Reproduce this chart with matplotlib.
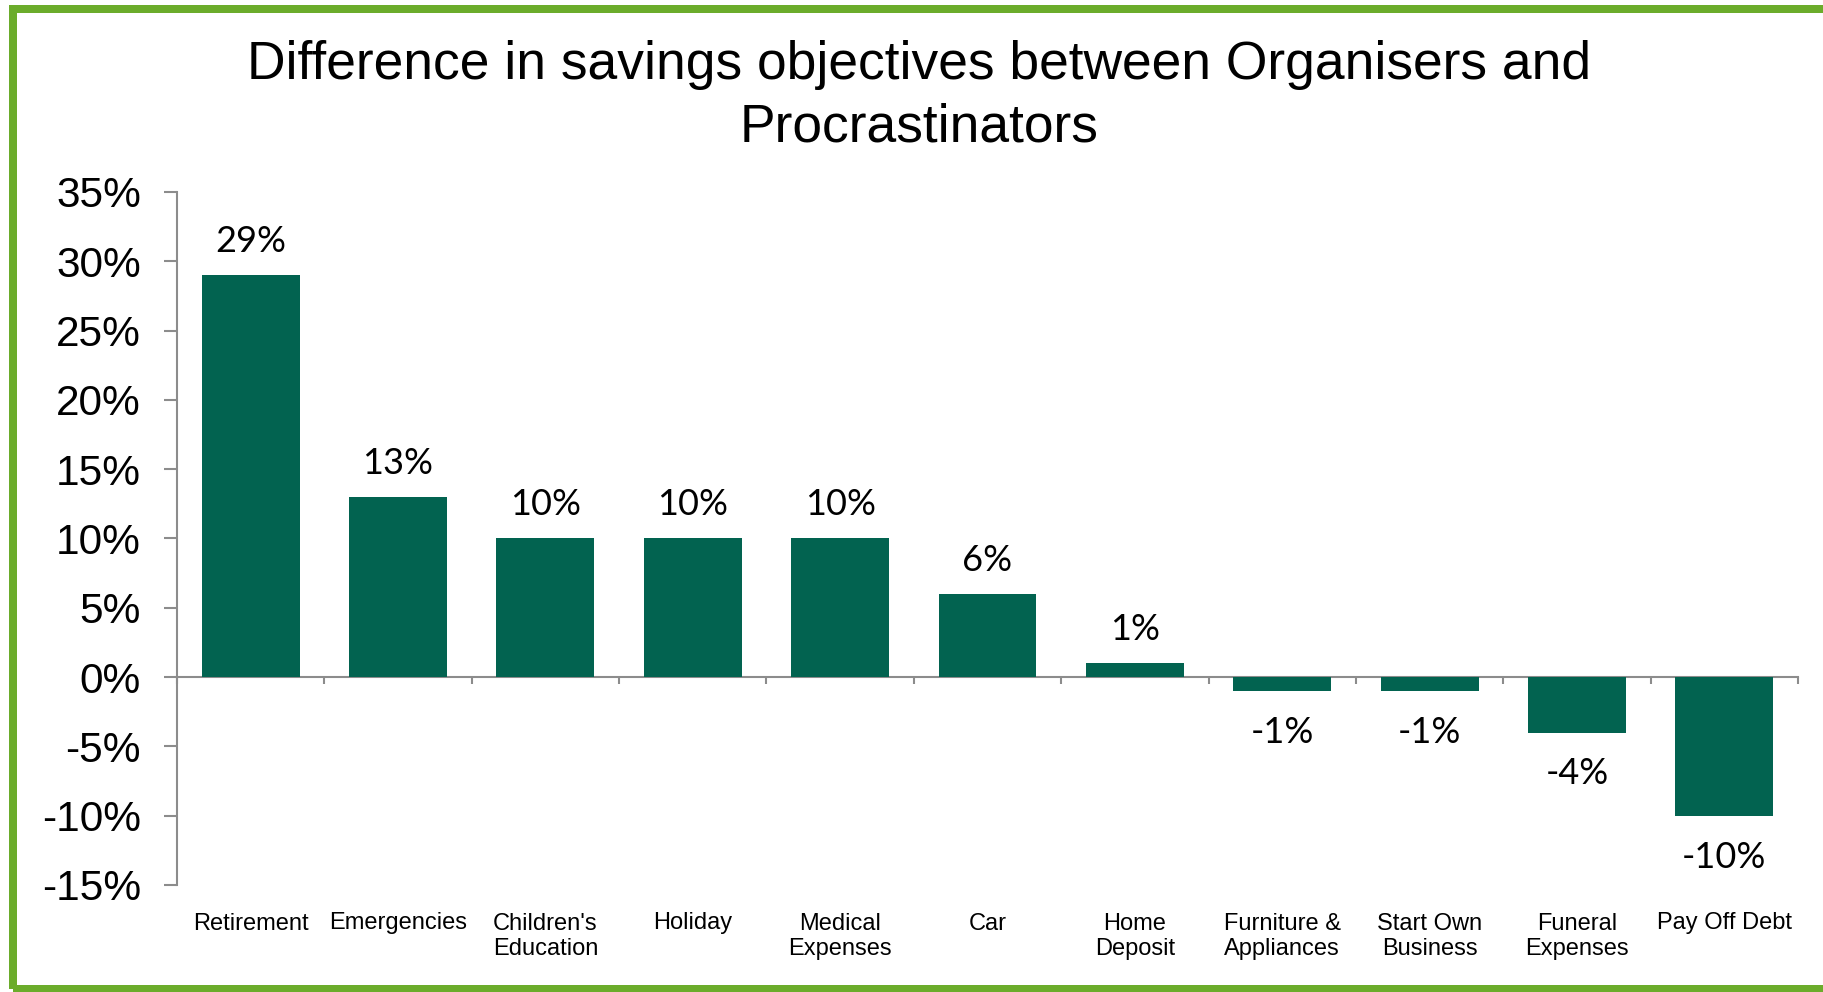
import matplotlib
matplotlib.use("Agg")
import matplotlib.pyplot as plt
from matplotlib.patches import Rectangle
from matplotlib.ticker import FuncFormatter

# Data
categories = ["Retirement", "Emergencies", "Children's\nEducation", "Holiday",
              "Medical\nExpenses", "Car", "Home\nDeposit", "Furniture &\nAppliances",
              "Start Own\nBusiness", "Funeral\nExpenses", "Pay Off Debt"]
differences = [29, 13, 10, 10, 10, 6, 1, -1, -1, -4, -10]
y_ticks = [-15, -10, -5, 0, 5, 10, 15, 20, 25, 30, 35]

bar_color = "#026350"
axis_gray = "#8C8C8C"
frame_green = "#6BAC2B"

W, H, DPI = 1823, 992, 100
fig = plt.figure(figsize=(W / DPI, H / DPI), dpi=DPI)
fig.patch.set_facecolor("white")

# Green frame around the chart area
fig.patches.append(Rectangle((12.5 / W, 3.5 / H), (W + 40) / W, (H - 12) / H,
                             transform=fig.transFigure, fill=False,
                             edgecolor=frame_green, linewidth=8 * 72 / DPI,
                             clip_on=False))

ax = fig.add_axes([177 / W, 1 - 885 / H, (1798 - 177) / W, (885 - 192) / H])
x = list(range(len(categories)))
ax.bar(x, differences, width=0.665, color=bar_color, zorder=2)

ax.set_xlim(-0.5, len(categories) - 0.5)
ax.set_ylim(-15, 35)
ax.set_yticks(y_ticks)
ax.yaxis.set_major_formatter(FuncFormatter(lambda v, p: f"{v:.0f}%"))

for side in ("top", "right", "bottom"):
    ax.spines[side].set_visible(False)
ax.spines["left"].set_color(axis_gray)
ax.spines["left"].set_linewidth(1.5)

ax.tick_params(axis="y", direction="out", length=9.4, width=1.5, color=axis_gray,
               pad=16.5, labelsize=30.5, labelcolor="black")
for lbl in ax.get_yticklabels():
    lbl.set_fontfamily("Liberation Sans")

# Category names along the bottom of the plot
ax.set_xticks(x)
ax.set_xticklabels(categories, fontsize=17, fontfamily="Liberation Sans",
                   linespacing=1.2)
ax.tick_params(axis="x", length=0, pad=19.8)

# Zero line with category separators
zero_axis = ax.secondary_xaxis((0 - (-15)) / (35 - (-15)))
zero_axis.set_xticks([i + 0.5 for i in range(-1, len(categories))])
zero_axis.set_xticklabels([])
zero_axis.spines["bottom"].set_color(axis_gray)
zero_axis.spines["bottom"].set_linewidth(1.5)
zero_axis.tick_params(direction="out", length=5, width=1.5, color=axis_gray)
for side in ("top", "left", "right"):
    if side in zero_axis.spines:
        zero_axis.spines[side].set_visible(False)

# Value labels
for xi, v in zip(x, differences):
    if v >= 0:
        ax.annotate(f"{v}%", (xi, v), xytext=(0, 16.6), textcoords="offset points",
                    ha="center", va="baseline", fontsize=26, fontfamily="Lato")
    else:
        ax.annotate(f"{v}%", (xi, v), xytext=(0, -37.4), textcoords="offset points",
                    ha="center", va="baseline", fontsize=26, fontfamily="Lato")

# Title
title_lines = ["Difference in savings objectives between Organisers and",
               "Procrastinators"]
fig.text(919 / W, 1 - 79 / H, title_lines[0], ha="center", va="baseline",
         fontsize=38.4, fontfamily="Liberation Sans")
fig.text(919 / W, 1 - 141 / H, title_lines[1], ha="center", va="baseline",
         fontsize=38.4, fontfamily="Liberation Sans")

fig.savefig("out.png", dpi=DPI, facecolor="white")
